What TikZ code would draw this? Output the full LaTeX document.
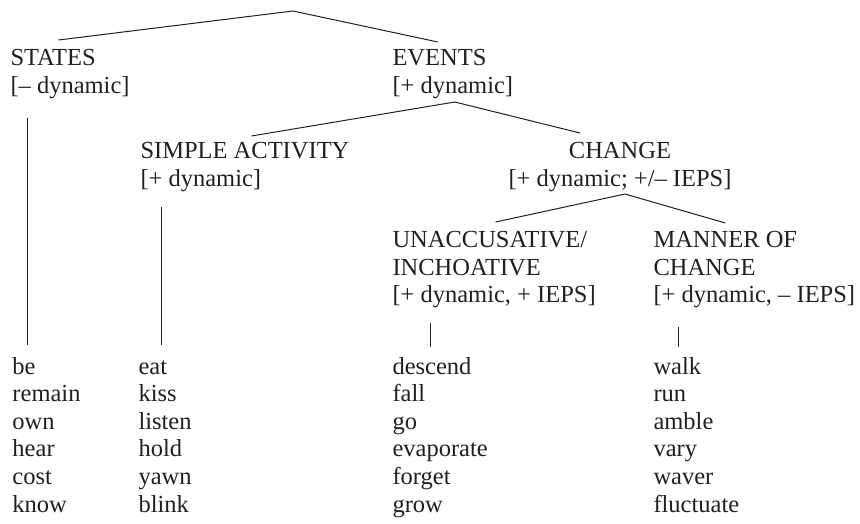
\documentclass[tikz,border=0pt]{standalone}
\usepackage{fontspec}
\setmainfont{Liberation Serif}
\usetikzlibrary{positioning}
\newcommand\fs{\fontsize{24.5}{27.5}\selectfont}
\definecolor{ink}{RGB}{35,31,32}

\begin{document}
\begin{tikzpicture}[x=1pt, y=-1pt, line width=1pt, draw=ink, text=ink,
    lbl/.style={inner sep=0pt, anchor=north west, align=left, font=\fs},
    word/.style={inner sep=0pt, anchor=base west, font=\fs}]
  \useasboundingbox (0,0) rectangle (860,524);
  \coordinate (root) at (293,11);
  \node[lbl] (states) at (10,49) {STATES\\{}[– dynamic]};
  \node[lbl] (events) at (392,49) {EVENTS\\{}[+ dynamic]};
  \node[lbl] (simple) at (140,142) {SIMPLE ACTIVITY\\{}[+ dynamic]};
  \node[lbl, anchor=north, align=center] (change) at (620,142) {CHANGE\\{}[+ dynamic; +/– IEPS]};
  \node[lbl] (unacc) at (392,231) {UNACCUSATIVE/\\INCHOATIVE\\{}[+ dynamic, + IEPS]};
  \node[lbl] (manner) at (653,231) {MANNER OF\\CHANGE\\{}[+ dynamic, – IEPS]};
  % verb lists
  \foreach \w [count=\i from 0] in {be,remain,own,hear,cost,know}
    \node[word] (a\i) at (12,374+27.6*\i) {\w};
  \foreach \w [count=\i from 0] in {eat,kiss,listen,hold,yawn,blink}
    \node[word] (b\i) at (138,374+27.6*\i) {\w};
  \foreach \w [count=\i from 0] in {descend,fall,go,evaporate,forget,grow}
    \node[word] (c\i) at (392,374+27.6*\i) {\w};
  \foreach \w [count=\i from 0] in {walk,run,amble,vary,waver,fluctuate}
    \node[word] (d\i) at (653,374+27.6*\i) {\w};
  % branches
  \draw (root) -- ([shift={(-11.5,-9)}]states.north);
  \draw (root) -- ([shift={(-15,-7)}]events.north);
  \draw ([shift={(2,3)}]events.south) -- ([shift={(6.5,-6)}]simple.north);
  \draw ([shift={(2,3)}]events.south) -- ([shift={(-40,-9)}]change.north);
  \draw ([shift={(5,2)}]change.south) -- ([shift={(1.5,-9)}]unacc.north);
  \draw ([shift={(5,2)}]change.south) -- ([shift={(-29,-8)}]manner.north);
  \draw ([shift={(17,19)}]states.south west) -- ([shift={(15,-12)}]a0.north west);
  \draw ([shift={(21,15)}]simple.south west) -- ([shift={(23,-15)}]b0.north west);
  \draw ([shift={(38,14)}]unacc.south west) -- ([shift={(38,-10)}]c0.north west);
  \draw ([shift={(25,18)}]manner.south west) -- ([shift={(25,-10)}]d0.north west);
\end{tikzpicture}
\end{document}
